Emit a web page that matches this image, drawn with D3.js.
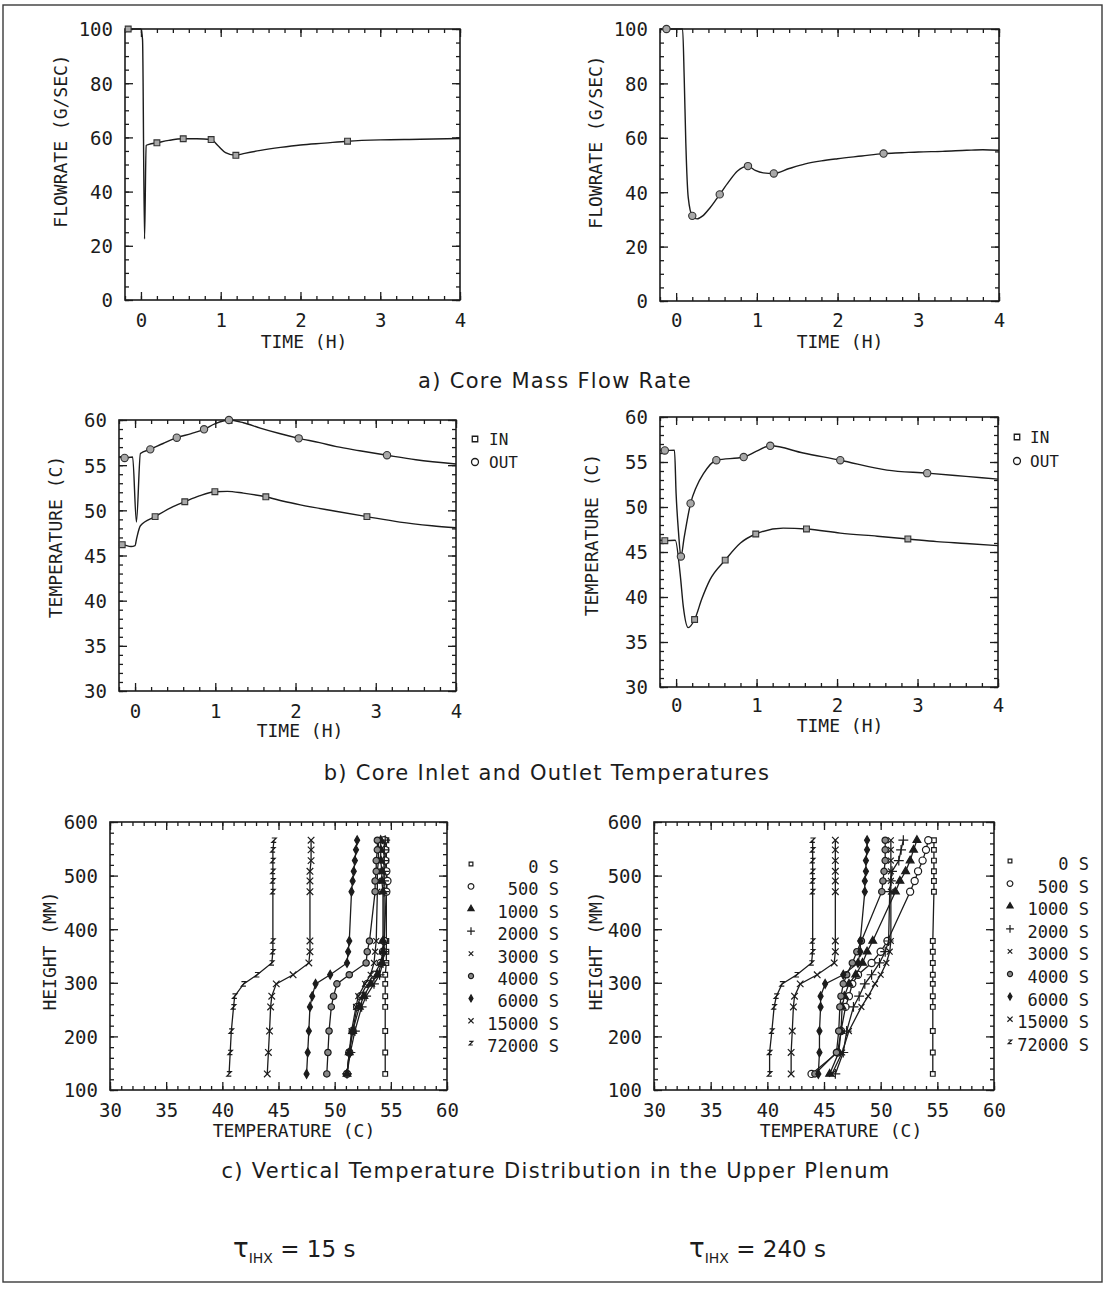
<!DOCTYPE html>
<html>
<head>
<meta charset="utf-8">
<script src="https://cdn.jsdelivr.net/npm/d3@7"></script>
<style>
  html, body { margin: 0; padding: 0; background: #fff; }
  svg { display: block; }
</style>
</head>
<body>
<div id="chart"></div>
<script>
// ---------------------------------------------------------------------------
// Data
// ---------------------------------------------------------------------------
const timeTicks = [0, 1, 2, 3, 4];
const flowTicks = [0, 20, 40, 60, 80, 100];
const tempTicks = [30, 35, 40, 45, 50, 55, 60];
const heightTicks = [100, 200, 300, 400, 500, 600];
const plenumTempTicks = [30, 35, 40, 45, 50, 55, 60];

// a) core mass flow rate [time (h), flow (g/s)]
const flow15 = [[-0.2,100],[-0.16,100],[0.0,100],[0.02,96],[0.045,22.5],[0.065,57],[0.1,57.4],[0.2,58.0],[0.35,58.9],[0.53,59.5],[0.7,59.5],[0.88,59.2],[0.97,56.8],[1.06,54.4],[1.19,53.4],[1.3,54.1],[1.5,55.2],[1.75,56.3],[2.0,57.2],[2.3,57.9],[2.59,58.6],[3.0,59.1],[3.5,59.3],[4.0,59.6]];
const flow15Marks = [-0.16, 0.2, 0.53, 0.88, 1.19, 2.59];
const flow240 = [[-0.2,100],[-0.12,100],[0.08,100],[0.1,82],[0.12,58],[0.15,38],[0.2,31.3],[0.26,30.2],[0.33,31.3],[0.42,34.3],[0.54,39.2],[0.65,43.8],[0.76,47.8],[0.89,49.6],[0.98,48.0],[1.08,47.1],[1.21,46.9],[1.4,48.7],[1.6,50.4],[1.8,51.5],[2.0,52.3],[2.3,53.3],[2.57,54.2],[2.8,54.5],[3.0,54.8],[3.3,55.0],[3.6,55.4],[3.8,55.6],[4.0,55.4]];
const flow240Marks = [-0.12, 0.2, 0.54, 0.89, 1.21, 2.57];

// b) core inlet / outlet temperatures [time (h), temperature (C)]
const tempIn15 = [[-0.2,46.1],[-0.16,46.2],[-0.05,46.0],[0.0,46.1],[0.02,46.9],[0.067,48.3],[0.25,49.3],[0.45,50.3],[0.62,50.95],[0.8,51.6],[0.995,52.06],[1.15,52.1],[1.35,51.9],[1.63,51.5],[1.85,51.0],[2.06,50.6],[2.5,49.9],[2.89,49.3],[3.3,48.7],[3.7,48.3],[4.0,48.07]];
const tempIn15Marks = [-0.16, 0.25, 0.62, 0.995, 1.63, 2.89];
const tempOut15 = [[-0.2,55.9],[-0.13,55.8],[-0.03,55.9],[0.017,48.7],[0.067,56.3],[0.19,56.75],[0.35,57.4],[0.52,58.04],[0.7,58.5],[0.86,58.97],[1.0,59.6],[1.17,60.0],[1.35,59.7],[1.56,59.1],[1.8,58.5],[2.04,57.97],[2.3,57.5],[2.51,57.05],[2.8,56.6],[3.14,56.1],[3.5,55.6],[4.0,55.13]];
const tempOut15Marks = [-0.13, 0.19, 0.52, 0.86, 1.17, 2.04, 3.14];
const tempIn240 = [[-0.2,46.3],[-0.14,46.26],[-0.01,46.3],[0.05,42.6],[0.09,38.9],[0.15,36.6],[0.23,37.5],[0.32,39.8],[0.42,41.9],[0.61,44.1],[0.8,46.0],[0.99,47.0],[1.33,47.65],[1.62,47.56],[2.04,47.1],[2.5,46.75],[2.88,46.45],[3.24,46.15],[3.6,45.95],[4.0,45.7]];
const tempIn240Marks = [-0.14, 0.23, 0.61, 0.99, 1.62, 2.88];
const tempOut240 = [[-0.2,56.3],[-0.14,56.28],[-0.02,56.3],[0.0,51.5],[0.03,47.2],[0.06,44.5],[0.1,46.6],[0.18,50.4],[0.25,52.2],[0.34,53.7],[0.5,55.2],[0.84,55.55],[1.0,56.2],[1.17,56.8],[1.58,56.0],[2.04,55.2],[2.62,54.1],[3.12,53.76],[3.6,53.4],[4.0,53.1]];
const tempOut240Marks = [-0.14, 0.06, 0.18, 0.5, 0.84, 1.17, 2.04, 3.12];

// c) vertical temperature distribution in the upper plenum
const plenumHeights = [130,170,210,255,275,298,315,337,358,378,470,490,508,528,548,566]; // mm
const plenumTimes = ["0 S","500 S","1000 S","2000 S","3000 S","4000 S","6000 S","15000 S","72000 S"];
// temperature (C) at each height, one row per time
const plenum15 = [
  [54.5,54.5,54.5,54.5,54.5,54.5,54.5,54.6,54.6,54.6,54.6,54.6,54.6,54.6,54.6,54.6],
  [51.1,51.3,51.6,52.0,52.3,52.9,53.5,54.1,54.3,54.4,54.6,54.7,54.6,54.5,54.5,54.4],
  [51.1,51.3,51.6,52.2,52.6,53.2,53.8,54.2,54.3,54.3,54.3,54.2,54.2,54.1,54.1,54.1],
  [51.1,51.4,51.8,52.4,52.8,53.5,54.0,54.3,54.4,54.4,54.4,54.4,54.4,54.4,54.4,54.5],
  [51.1,51.3,51.5,51.9,52.1,52.7,53.2,53.5,53.6,53.7,53.8,53.8,53.8,53.9,53.9,53.9],
  [49.3,49.4,49.5,49.7,49.9,50.2,51.3,52.8,52.9,53.1,53.6,53.6,53.7,53.7,53.8,53.8],
  [47.5,47.6,47.7,47.8,48.0,48.3,49.6,51.1,51.2,51.3,51.5,51.6,51.7,51.8,51.9,52.0],
  [44.0,44.1,44.2,44.3,44.4,44.8,46.3,47.7,47.8,47.8,47.8,47.8,47.8,47.9,47.9,47.9],
  [40.6,40.7,40.8,41.0,41.1,41.9,43.1,44.4,44.5,44.5,44.5,44.5,44.5,44.5,44.5,44.6]
];
const plenum240 = [
  [54.6,54.6,54.6,54.6,54.6,54.6,54.6,54.6,54.6,54.6,54.7,54.7,54.7,54.7,54.7,54.7],
  [43.9,46.2,46.5,46.9,47.2,47.5,48.0,49.2,50.0,50.6,52.6,53.0,53.3,53.7,54.0,54.2],
  [45.5,46.3,46.5,46.6,46.8,47.2,47.8,48.4,48.8,49.3,51.3,51.7,52.2,52.6,52.9,53.2],
  [46.0,46.7,47.0,47.6,48.1,48.6,49.2,49.9,50.4,50.7,50.8,50.9,51.0,51.6,51.8,52.0],
  [45.7,46.6,47.2,48.3,48.9,49.5,50.0,50.5,50.8,50.9,50.9,50.9,50.9,50.9,50.9,50.9],
  [44.2,46.1,46.3,46.4,46.5,46.7,47.0,47.5,47.9,48.3,50.1,50.2,50.3,50.4,50.4,50.4],
  [44.5,44.6,44.6,44.7,44.7,45.1,46.7,48.0,48.2,48.2,48.6,48.6,48.7,48.7,48.8,48.8],
  [42.1,42.1,42.2,42.3,42.4,42.9,44.4,45.9,46.0,46.0,46.0,46.0,46.0,46.0,46.0,46.0],
  [40.2,40.2,40.4,40.6,40.8,41.3,42.6,43.9,44.0,44.0,44.0,44.0,44.0,44.0,44.0,44.0]
];

// ---------------------------------------------------------------------------
// Drawing
// ---------------------------------------------------------------------------
const W = 1107, H = 1290;
const INK = "#1c1c1c";
const MONO = "'DejaVu Sans Mono', monospace";
const SANS = "'DejaVu Sans', sans-serif";

const svg = d3.select("#chart").append("svg")
  .attr("width", W).attr("height", H)
  .attr("viewBox", `0 0 ${W} ${H}`);

svg.append("rect").attr("width", W).attr("height", H).attr("fill", "#fff");

// figure frame
svg.append("rect")
  .attr("x", 3).attr("y", 5).attr("width", 1099).attr("height", 1277)
  .attr("fill", "none").attr("stroke", "#3a3a3a").attr("stroke-width", 1.4);

function range(a, b, step) {
  const n = Math.round((b - a) / step);
  return d3.range(n + 1).map(i => +(a + i * step).toFixed(4));
}

function panel(o) {
  const x = d3.scaleLinear().domain(o.xDomain).range([o.x0, o.x1]);
  const y = d3.scaleLinear().domain(o.yDomain).range([o.y1, o.y0]);
  const g = svg.append("g");

  const styleAxis = sel => {
    sel.select(".domain").remove();
    sel.selectAll("line").attr("stroke", INK).attr("stroke-width", 1.3);
  };

  const sides = [
    [d3.axisBottom, x, `translate(0,${o.y1})`, o.xMinor, o.xMajor],
    [d3.axisTop, x, `translate(0,${o.y0})`, o.xMinor, o.xMajor],
    [d3.axisLeft, y, `translate(${o.x0},0)`, o.yMinor, o.yMajor],
    [d3.axisRight, y, `translate(${o.x1},0)`, o.yMinor, o.yMajor]
  ];
  sides.forEach(([mk, sc, tr, minor, major]) => {
    g.append("g").attr("transform", tr)
      .call(mk(sc).tickValues(minor).tickSize(-4).tickFormat(""))
      .call(styleAxis);
    g.append("g").attr("transform", tr)
      .call(mk(sc).tickValues(major).tickSize(-8).tickFormat(""))
      .call(styleAxis);
  });

  // tick labels
  const bx = g.append("g").attr("transform", `translate(0,${o.y1})`)
    .call(d3.axisBottom(x).tickValues(o.xMajor).tickSize(0).tickFormat(d3.format("d")))
    .call(styleAxis);
  bx.selectAll("text").attr("y", o.xLabelDy).attr("dy", null)
    .attr("font-family", MONO).attr("font-size", 19).attr("fill", INK);

  const ly = g.append("g").attr("transform", `translate(${o.x0},0)`)
    .call(d3.axisLeft(y).tickValues(o.yMajor).tickSize(0).tickFormat(d3.format("d")))
    .call(styleAxis);
  ly.selectAll("text").attr("x", -12).attr("dy", "0.36em")
    .attr("font-family", MONO).attr("font-size", 19).attr("fill", INK);

  // frame
  g.append("rect")
    .attr("x", o.x0).attr("y", o.y0)
    .attr("width", o.x1 - o.x0).attr("height", o.y1 - o.y0)
    .attr("fill", "none").attr("stroke", INK).attr("stroke-width", 1.6);

  // axis titles
  g.append("text")
    .attr("x", o.xTitleX).attr("y", o.xTitleY)
    .attr("text-anchor", "middle")
    .attr("font-family", MONO).attr("font-size", 18).attr("fill", INK)
    .text(o.xTitle);
  g.append("text")
    .attr("transform", `translate(${o.yTitleX},${o.yTitleY}) rotate(-90)`)
    .attr("text-anchor", "middle")
    .attr("font-family", MONO).attr("font-size", 18).attr("fill", INK)
    .text(o.yTitle);

  return { x, y, g };
}

const timeMinor = range(-0.2, 4, 0.2);

// time-series curve with its sample markers
function drawSeries(p, data, marks, shape) {
  const line = d3.line()
    .x(d => p.x(d[0])).y(d => p.y(d[1]))
    .curve(d3.curveMonotoneX);
  p.g.append("path").datum(data)
    .attr("d", line).attr("fill", "none")
    .attr("stroke", INK).attr("stroke-width", 1.4);
  const pts = marks.map(t => data.find(d => d[0] === t));
  p.g.selectAll(null).data(pts).enter().append("path")
    .attr("transform", d => `translate(${p.x(d[0])},${p.y(d[1])})`)
    .attr("d", d3.symbol(shape === "square" ? d3.symbolSquare : d3.symbolCircle, shape === "square" ? 34 : 42))
    .attr("fill", "#a8a8a8").attr("stroke", "#333").attr("stroke-width", 1.1);
}

// ---- a) core mass flow rate ----
const pa1 = panel({
  x0: 125, x1: 460, y0: 29, y1: 300,
  xDomain: [-0.2, 4], yDomain: [0, 100],
  xMajor: timeTicks, xMinor: timeMinor,
  yMajor: flowTicks, yMinor: range(0, 100, 5),
  xLabelDy: 27, xTitle: "TIME (H)", xTitleX: 304, xTitleY: 348,
  yTitle: "FLOWRATE (G/SEC)", yTitleX: 67, yTitleY: 141
});
drawSeries(pa1, flow15, flow15Marks, "square");

const pa2 = panel({
  x0: 660, x1: 999, y0: 29, y1: 301,
  xDomain: [-0.2, 4], yDomain: [0, 100],
  xMajor: timeTicks, xMinor: timeMinor,
  yMajor: flowTicks, yMinor: range(0, 100, 5),
  xLabelDy: 26, xTitle: "TIME (H)", xTitleX: 840, xTitleY: 348,
  yTitle: "FLOWRATE (G/SEC)", yTitleX: 602, yTitleY: 142
});
drawSeries(pa2, flow240, flow240Marks, "circle");

// ---- b) core inlet and outlet temperatures ----
const pb1 = panel({
  x0: 119, x1: 456, y0: 420, y1: 691,
  xDomain: [-0.2, 4], yDomain: [30, 60],
  xMajor: timeTicks, xMinor: timeMinor,
  yMajor: tempTicks, yMinor: range(30, 60, 1),
  xLabelDy: 27, xTitle: "TIME (H)", xTitleX: 300, xTitleY: 737,
  yTitle: "TEMPERATURE (C)", yTitleX: 62, yTitleY: 537
});
drawSeries(pb1, tempIn15, tempIn15Marks, "square");
drawSeries(pb1, tempOut15, tempOut15Marks, "circle");

const pb2 = panel({
  x0: 660, x1: 998, y0: 417, y1: 687,
  xDomain: [-0.2, 4], yDomain: [30, 60],
  xMajor: timeTicks, xMinor: timeMinor,
  yMajor: tempTicks, yMinor: range(30, 60, 1),
  xLabelDy: 25, xTitle: "TIME (H)", xTitleX: 840, xTitleY: 732,
  yTitle: "TEMPERATURE (C)", yTitleX: 598, yTitleY: 535
});
drawSeries(pb2, tempIn240, tempIn240Marks, "square");
drawSeries(pb2, tempOut240, tempOut240Marks, "circle");

// IN / OUT keys
function inOutKey(xm, xt, y1, y2) {
  svg.append("path").attr("transform", `translate(${xm},${y1})`)
    .attr("d", d3.symbol(d3.symbolSquare, 30))
    .attr("fill", "#fff").attr("stroke", INK).attr("stroke-width", 1.3);
  svg.append("path").attr("transform", `translate(${xm},${y2})`)
    .attr("d", d3.symbol(d3.symbolCircle, 38))
    .attr("fill", "#fff").attr("stroke", INK).attr("stroke-width", 1.3);
  svg.append("text").attr("x", xt).attr("y", y1 + 6)
    .attr("font-family", MONO).attr("font-size", 16).attr("fill", INK).text("IN");
  svg.append("text").attr("x", xt).attr("y", y2 + 6)
    .attr("font-family", MONO).attr("font-size", 16).attr("fill", INK).text("OUT");
}
inOutKey(475, 489, 439, 462);
inOutKey(1017, 1030, 437, 461);

// ---- c) vertical temperature distribution ----
// plotter-style "z" glyph used as a symbol type
const symbolZ = {
  draw(ctx, size) {
    const r = Math.sqrt(size) / 2;
    ctx.moveTo(-r, -r);
    ctx.lineTo(r, -r);
    ctx.lineTo(-r, r);
    ctx.lineTo(r, r);
  }
};

const profileShapes = [
  { type: d3.symbolSquare, size: 22, fill: "#fff" },
  { type: d3.symbolCircle, size: 40, fill: "#fff" },
  { type: d3.symbolTriangle, size: 26, fill: INK },
  { type: d3.symbolPlus, size: 34, fill: "none" },
  { type: d3.symbolTimes, size: 24, fill: "none" },
  { type: d3.symbolCircle, size: 32, fill: "#888" },
  { type: d3.symbolDiamond, size: 22, fill: INK },
  { type: d3.symbolTimes, size: 30, fill: "none" },
  { type: symbolZ, size: 20, fill: "none" }
];

function drawMarker(sel, shape, scale) {
  sel.append("path")
    .attr("d", d3.symbol(shape.type, shape.size * scale * scale))
    .attr("fill", shape.fill).attr("stroke", INK).attr("stroke-width", 1.2);
}

function drawProfiles(p, rows, keyX, keyTextX, keyY0, keyStep) {
  const line = d3.line().x(d => p.x(d[0])).y(d => p.y(d[1]));
  rows.forEach((temps, i) => {
    const pts = temps.map((t, k) => [t, plenumHeights[k]]);
    p.g.append("path").datum(pts).attr("d", line)
      .attr("fill", "none").attr("stroke", INK).attr("stroke-width", 1.3);
    pts.forEach(d => {
      const m = p.g.append("g").attr("transform", `translate(${p.x(d[0])},${p.y(d[1])})`);
      drawMarker(m, profileShapes[i], 1);
    });
  });
  plenumTimes.forEach((label, i) => {
    const yy = keyY0 + i * keyStep;
    const m = svg.append("g").attr("transform", `translate(${keyX},${yy - 3})`);
    drawMarker(m, profileShapes[i], 0.8);
    svg.append("text").attr("x", keyTextX).attr("y", yy + 6)
      .attr("text-anchor", "end")
      .attr("font-family", MONO).attr("font-size", 17).attr("fill", INK)
      .text(label);
  });
}

const pc1 = panel({
  x0: 110, x1: 447, y0: 822, y1: 1090,
  xDomain: [30, 60], yDomain: [100, 600],
  xMajor: plenumTempTicks, xMinor: range(30, 60, 1),
  yMajor: heightTicks, yMinor: range(100, 600, 20),
  xLabelDy: 27, xTitle: "TEMPERATURE (C)", xTitleX: 294, xTitleY: 1137,
  yTitle: "HEIGHT (MM)", yTitleX: 56, yTitleY: 951
});
drawProfiles(pc1, plenum15, 471, 559, 867, 22.4);

const pc2 = panel({
  x0: 654, x1: 994, y0: 822, y1: 1090,
  xDomain: [30, 60], yDomain: [100, 600],
  xMajor: plenumTempTicks, xMinor: range(30, 60, 1),
  yMajor: heightTicks, yMinor: range(100, 600, 20),
  xLabelDy: 27, xTitle: "TEMPERATURE (C)", xTitleX: 841, xTitleY: 1137,
  yTitle: "HEIGHT (MM)", yTitleX: 602, yTitleY: 951
});
drawProfiles(pc2, plenum240, 1010, 1089, 864, 22.6);

// ---- captions ----
function caption(txt, cx, y) {
  svg.append("text").attr("x", cx).attr("y", y)
    .attr("text-anchor", "middle")
    .attr("font-family", SANS).attr("font-size", 21)
    .attr("letter-spacing", 1.3).attr("fill", INK)
    .text(txt);
}
caption("a) Core Mass Flow Rate", 555, 388);
caption("b) Core Inlet and Outlet Temperatures", 547, 780);
caption("c) Vertical Temperature Distribution in the Upper Plenum", 556, 1178);

function tauLabel(x0, value) {
  const t = svg.append("text").attr("x", x0).attr("y", 1257)
    .attr("font-family", SANS).attr("fill", INK);
  t.append("tspan").attr("font-size", 26).text("τ");
  t.append("tspan").attr("font-size", 14).attr("dy", 6).text("IHX");
  t.append("tspan").attr("font-size", 23).attr("dy", -6).text(" = " + value + " s");
}
tauLabel(233, "15");
tauLabel(689, "240");
</script>
</body>
</html>
